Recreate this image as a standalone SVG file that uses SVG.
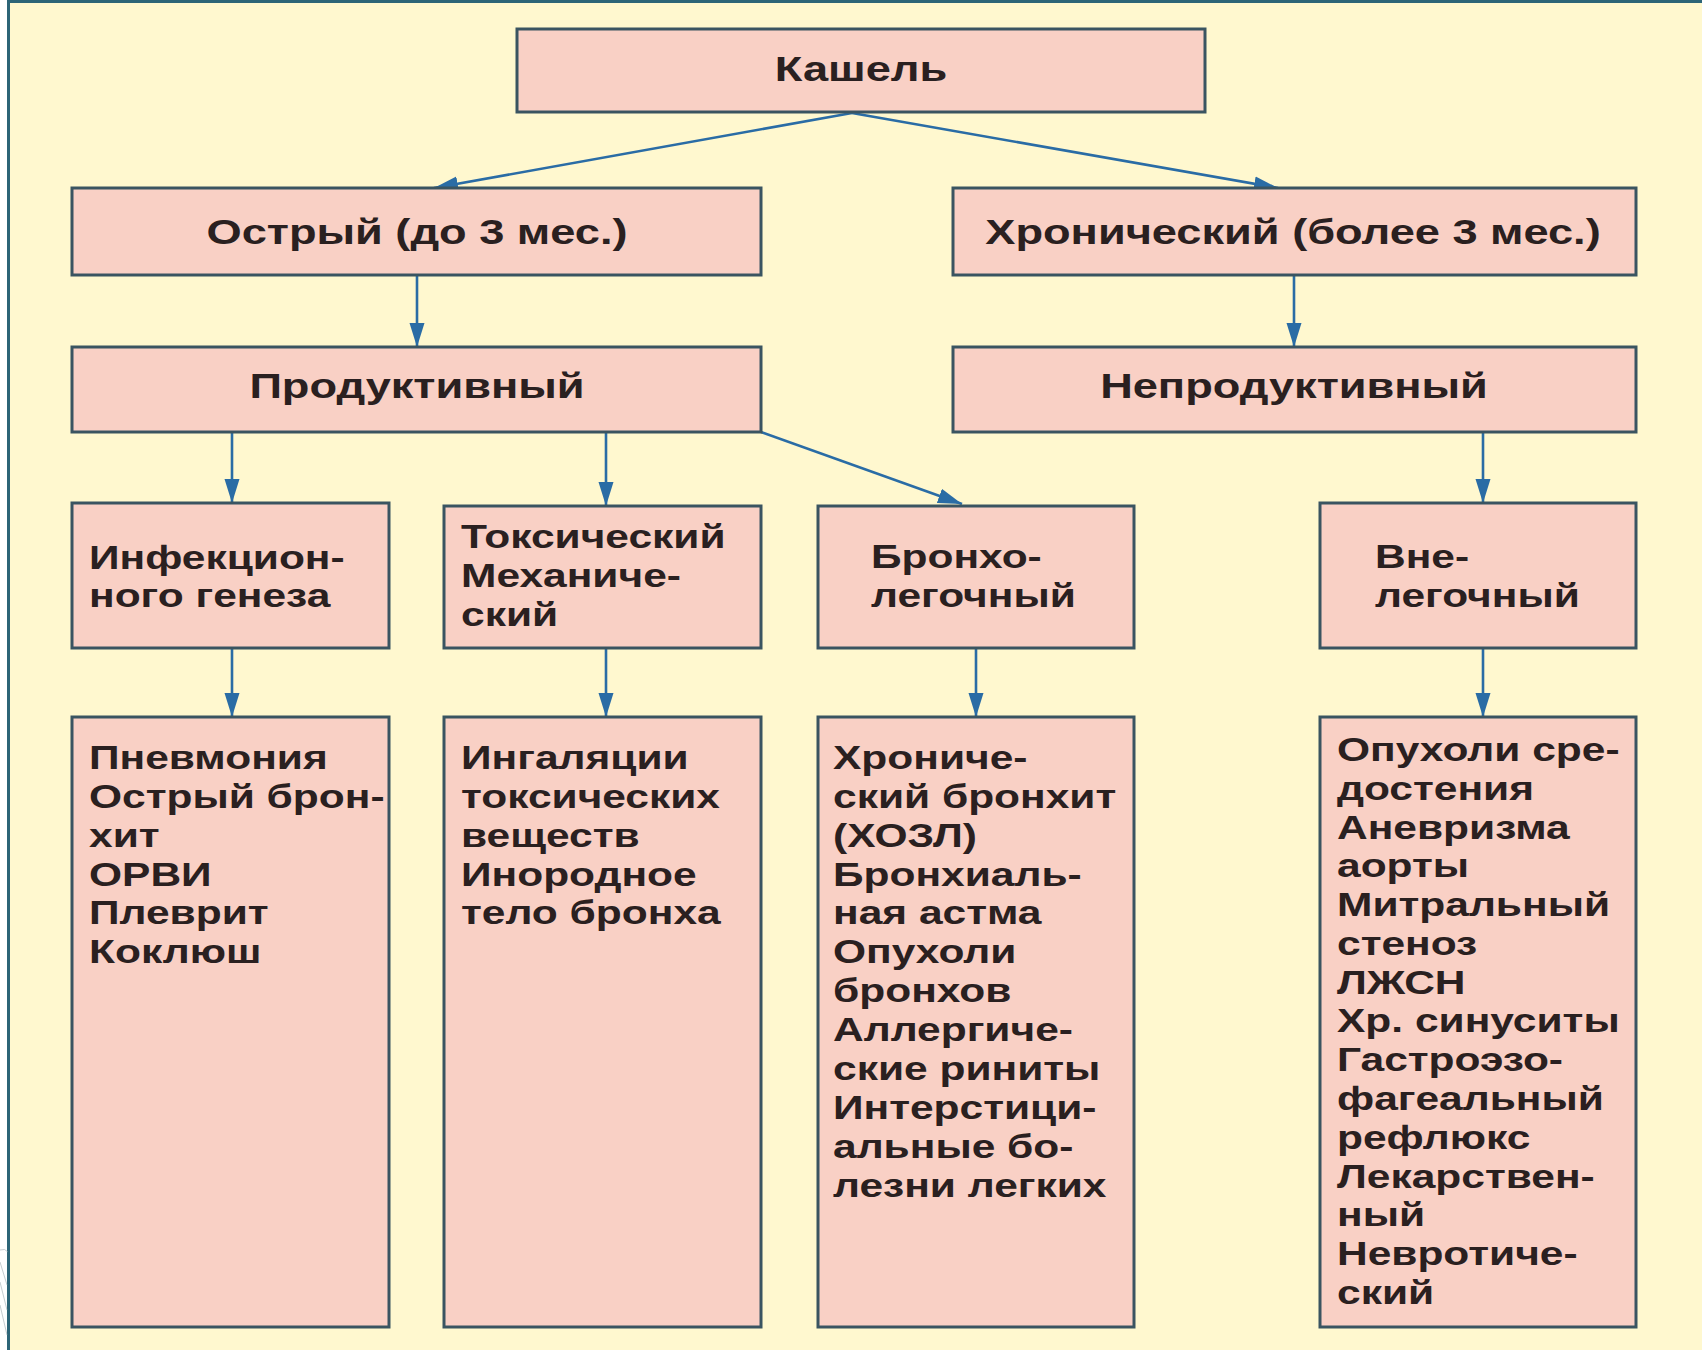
<svg xmlns="http://www.w3.org/2000/svg" width="1702" height="1350" viewBox="0 0 1702 1350">
<defs>
<style>
.box{fill:#F9D0C5;stroke:#3A5461;stroke-width:3}
.t{font-family:"Liberation Sans",Arial,sans-serif;font-weight:bold;fill:#2A2020}
.h{font-size:36px;text-anchor:middle}
.b{font-size:34px}
.c{stroke:#2A6CA5;stroke-width:2.6;fill:none;marker-end:url(#ah)}
</style>
<marker id="ah" markerUnits="userSpaceOnUse" markerWidth="26" markerHeight="16" refX="24" refY="8" orient="auto">
<path d="M0,0.5 L24,8 L0,15.5 z" fill="#2A6CA5"/>
</marker>
</defs>
<rect x="0" y="0" width="1702" height="1350" fill="#FFFFFF"/>
<rect x="8" y="2" width="1700" height="1352" fill="#FFF8CF"/>
<line x1="8.5" y1="0" x2="8.5" y2="1350" stroke="#2D6577" stroke-width="3"/>
<line x1="8" y1="1.5" x2="1702" y2="1.5" stroke="#2D6577" stroke-width="3"/>
<g stroke="#9AA6AC" stroke-width="0.8" fill="none" opacity="0.7">
<path d="M0,1250 Q5,1248 8,1252"/>
<path d="M0,1262 L7,1285"/>
<path d="M0,1282 L7,1310"/>
<path d="M0,1305 L7,1335"/>
</g>

<g id="connectors">
<line class="c" x1="852" y1="113" x2="434" y2="188"/>
<line class="c" x1="852" y1="113" x2="1278" y2="188"/>
<line class="c" x1="417" y1="275" x2="417" y2="347"/>
<line class="c" x1="1294" y1="275" x2="1294" y2="347"/>
<line class="c" x1="232" y1="432" x2="232" y2="503"/>
<line class="c" x1="606" y1="432" x2="606" y2="506"/>
<line class="c" x1="761" y1="432" x2="962" y2="504"/>
<line class="c" x1="1483" y1="432" x2="1483" y2="503"/>
<line class="c" x1="232" y1="648" x2="232" y2="717"/>
<line class="c" x1="606" y1="648" x2="606" y2="717"/>
<line class="c" x1="976" y1="648" x2="976" y2="717"/>
<line class="c" x1="1483" y1="648" x2="1483" y2="717"/>
</g>

<g id="n-kashel">
<rect class="box" x="517" y="29" width="688" height="83"/>
<g transform="translate(861 81) scale(1.255 1)"><text class="t h" x="0" y="0">Кашель</text></g>
</g>

<g id="n-ostry">
<rect class="box" x="72" y="188" width="689" height="87"/>
<g transform="translate(417 244) scale(1.255 1)"><text class="t h" x="0" y="0">Острый (до 3 мес.)</text></g>
</g>

<g id="n-chron">
<rect class="box" x="953" y="188" width="683" height="87"/>
<g transform="translate(1293 244) scale(1.255 1)"><text class="t h" x="0" y="0">Хронический (более 3 мес.)</text></g>
</g>

<g id="n-prod">
<rect class="box" x="72" y="347" width="689" height="85"/>
<g transform="translate(417 398) scale(1.255 1)"><text class="t h" x="0" y="0">Продуктивный</text></g>
</g>

<g id="n-neprod">
<rect class="box" x="953" y="347" width="683" height="85"/>
<g transform="translate(1294 398) scale(1.255 1)"><text class="t h" x="0" y="0">Непродуктивный</text></g>
</g>

<g id="n-infek">
<rect class="box" x="72" y="503" width="317" height="145"/>
<g transform="translate(89 0) scale(1.25 1)" class="t b">
<text x="0" y="569">Инфекцион-</text>
<text x="0" y="607">ного генеза</text>
</g>
</g>

<g id="n-toks">
<rect class="box" x="444" y="506" width="317" height="142"/>
<g transform="translate(461 0) scale(1.25 1)" class="t b">
<text x="0" y="548">Токсический</text>
<text x="0" y="587">Механиче-</text>
<text x="0" y="626">ский</text>
</g>
</g>

<g id="n-bronho">
<rect class="box" x="818" y="506" width="316" height="142"/>
<g transform="translate(871 0) scale(1.25 1)" class="t b">
<text x="0" y="568">Бронхо-</text>
<text x="0" y="607">легочный</text>
</g>
</g>

<g id="n-vne">
<rect class="box" x="1320" y="503" width="316" height="145"/>
<g transform="translate(1375 0) scale(1.25 1)" class="t b">
<text x="0" y="568">Вне-</text>
<text x="0" y="607">легочный</text>
</g>
</g>

<g id="n-list1">
<rect class="box" x="72" y="717" width="317" height="610"/>
<g transform="translate(89 0) scale(1.25 1)" class="t b">
<text x="0" y="769">Пневмония</text>
<text x="0" y="808">Острый брон-</text>
<text x="0" y="847">хит</text>
<text x="0" y="886">ОРВИ</text>
<text x="0" y="924">Плеврит</text>
<text x="0" y="963">Коклюш</text>
</g>
</g>

<g id="n-list2">
<rect class="box" x="444" y="717" width="317" height="610"/>
<g transform="translate(461 0) scale(1.25 1)" class="t b">
<text x="0" y="769">Ингаляции</text>
<text x="0" y="808">токсических</text>
<text x="0" y="847">веществ</text>
<text x="0" y="886">Инородное</text>
<text x="0" y="924">тело бронха</text>
</g>
</g>

<g id="n-list3">
<rect class="box" x="818" y="717" width="316" height="610"/>
<g transform="translate(833 0) scale(1.25 1)" class="t b">
<text x="0" y="769">Хрониче-</text>
<text x="0" y="808">ский бронхит</text>
<text x="0" y="847">(ХОЗЛ)</text>
<text x="0" y="886">Бронхиаль-</text>
<text x="0" y="924">ная астма</text>
<text x="0" y="963">Опухоли</text>
<text x="0" y="1002">бронхов</text>
<text x="0" y="1041">Аллергиче-</text>
<text x="0" y="1080">ские риниты</text>
<text x="0" y="1119">Интерстици-</text>
<text x="0" y="1158">альные бо-</text>
<text x="0" y="1197">лезни легких</text>
</g>
</g>

<g id="n-list4">
<rect class="box" x="1320" y="717" width="316" height="610"/>
<g transform="translate(1337 0) scale(1.25 1)" class="t b">
<text x="0" y="761">Опухоли сре-</text>
<text x="0" y="800">достения</text>
<text x="0" y="839">Аневризма</text>
<text x="0" y="877">аорты</text>
<text x="0" y="916">Митральный</text>
<text x="0" y="955">стеноз</text>
<text x="0" y="994">ЛЖСН</text>
<text x="0" y="1032">Хр. синуситы</text>
<text x="0" y="1071">Гастроэзо-</text>
<text x="0" y="1110">фагеальный</text>
<text x="0" y="1149">рефлюкс</text>
<text x="0" y="1188">Лекарствен-</text>
<text x="0" y="1226">ный</text>
<text x="0" y="1265">Невротиче-</text>
<text x="0" y="1304">ский</text>
</g>
</g>
</svg>
